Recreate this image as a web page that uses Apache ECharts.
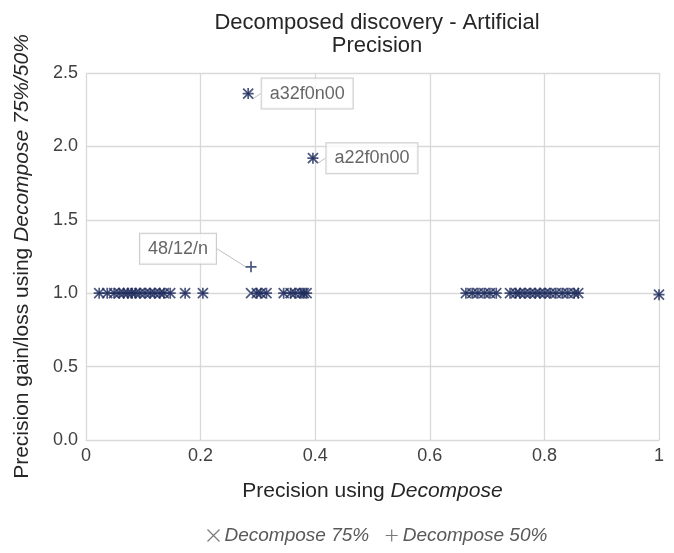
<!DOCTYPE html>
<html>
<head>
<meta charset="utf-8">
<script src="https://cdn.jsdelivr.net/npm/echarts@6/dist/echarts.min.js"></script>
<style>html,body{margin:0;padding:0;background:#fff}#c{width:674px;height:553px}</style>
</head>
<body>
<div id="c"></div>
<script>
// Precision using Decompose (x) — shared by both series
const precision = [0.023, 0.037, 0.049, 0.058, 0.066, 0.073, 0.080, 0.086, 0.094, 0.103, 0.112, 0.120, 0.129, 0.136, 0.147, 0.173, 0.204,
  0.288, 0.298, 0.305, 0.315, 0.345, 0.357, 0.365, 0.375, 0.380, 0.385,
  0.283, 0.396,
  0.663, 0.674, 0.684, 0.695, 0.705, 0.716, 0.740, 0.750, 0.757, 0.766, 0.775, 0.784, 0.792, 0.801, 0.810, 0.820, 0.831, 0.841, 0.852, 0.859,
  1.0];
// Precision gain/loss, Decompose 75%
const gain75 = [1,1,1,1,1,1,1,1,1,1,1,1,1,1,1,1,1,
  1,1,1,1,1,1,1,1,1,1,
  2.36, 1.92,
  1,1,1,1,1,1,1,1,1,1,1,1,1,1,1,1,1,1,1,1,
  0.99];
// Precision gain/loss, Decompose 50%
const gain50 = [1,1,1,1,1,1,1,1,1,1,1,1,1,1,1,1,1,
  1.18,1,1,1,1,1,1,1,1,1,
  2.36, 1.92,
  1,1,1,1,1,1,1,1,1,1,1,1,1,1,1,1,1,1,1,1,
  0.99];
// Point names shown as callouts
const names75 = {27: 'a32f0n00', 28: 'a22f0n00'};
const names50 = {17: '48/12/n'};
const xTicks = [0, 0.2, 0.4, 0.6, 0.8, 1];
const yTicks = [0, 0.5, 1, 1.5, 2, 2.5];

const navy = '#1f2d5e';
const font = 'Liberation Sans, Arial';
const crossPath = 'path://M0,0L10,10M10,0L0,10';
const plusPath = 'path://M5,0L5,10M0,5L10,5';

const labelBox = {
  show: true, color: '#404040', fontSize: 18, fontFamily: font,
  backgroundColor: '#fff', borderColor: '#bfbfbf', borderWidth: 1, padding: [6, 8]
};

function buildData(ys, names, side) {
  return precision.map((x, i) => {
    const item = {value: [x, ys[i]]};
    if (names[i]) {
      item.name = names[i];
      item.label = Object.assign({}, labelBox, {formatter: names[i], position: side});
      item.labelLine = {show: true, lineStyle: {color: '#bfbfbf', width: 1}};
    }
    return item;
  });
}

const chart = echarts.init(document.getElementById('c'));
chart.setOption({
  animation: false,
  textStyle: {fontFamily: font},
  title: {
    text: 'Decomposed discovery - Artificial\nPrecision',
    left: 372, top: 6, textAlign: 'center',
    textStyle: {fontSize: 22, fontWeight: 'normal', color: '#262626', lineHeight: 23, fontFamily: font}
  },
  grid: {left: 86, right: 15, top: 73, bottom: 113},
  legend: {
    bottom: 3, left: 200, itemGap: 14, itemWidth: 12, itemHeight: 12,
    textStyle: {fontSize: 19, fontStyle: 'italic', color: '#595959', fontFamily: font},
    data: [
      {name: 'Decompose 75%', icon: crossPath, itemStyle: {color: 'none', borderColor: '#595959', borderWidth: 1.2}},
      {name: 'Decompose 50%', icon: plusPath, itemStyle: {color: 'none', borderColor: '#595959', borderWidth: 1.2}}
    ]
  },
  xAxis: {
    type: 'value', min: 0, max: 1, interval: 0.2,
    axisLine: {show: true, lineStyle: {color: '#d9d9d9'}},
    axisTick: {show: false},
    splitLine: {show: true, lineStyle: {color: '#d9d9d9', width: 1.3}},
    axisLabel: {fontSize: 18, color: '#404040', margin: 7, formatter: v => xTicks.includes(+v.toFixed(1)) ? String(+v.toFixed(1)) : ''},
    name: '{n|Precision using }{i|Decompose}',
    nameLocation: 'middle', nameGap: 41,
    nameTextStyle: {rich: {n: {fontSize: 21, color: '#262626'}, i: {fontSize: 21, color: '#262626', fontStyle: 'italic'}}}
  },
  yAxis: {
    type: 'value', min: 0, max: 2.5, interval: 0.5,
    axisLine: {show: false},
    axisTick: {show: false},
    splitLine: {show: true, lineStyle: {color: '#d9d9d9', width: 1.3}},
    axisLabel: {fontSize: 18, color: '#404040', margin: 8, formatter: v => yTicks.includes(+v) ? (+v).toFixed(1) : ''},
    name: '{n|Precision gain/loss using }{i|Decompose 75%/50%}',
    nameLocation: 'middle', nameGap: 53,
    nameTextStyle: {rich: {n: {fontSize: 21, color: '#262626'}, i: {fontSize: 21, color: '#262626', fontStyle: 'italic'}}}
  },
  series: [
    {
      name: 'Decompose 75%', type: 'scatter', symbol: crossPath, symbolSize: 10,
      itemStyle: {color: 'none', borderColor: navy, borderWidth: 1.7},
      data: buildData(gain75, names75, 'right'),
      labelLayout: p => (p.dataIndex === 27 || p.dataIndex === 28) ? {dx: 1, dy: 0} : {},
      z: 3
    },
    {
      name: 'Decompose 50%', type: 'scatter', symbol: plusPath, symbolSize: 11,
      itemStyle: {color: 'none', borderColor: navy, borderWidth: 1.7},
      data: buildData(gain50, names50, 'left'),
      labelLayout: p => p.dataIndex === 17 ? {dx: -22, dy: -18} : {},
      z: 4
    }
  ]
});
</script>
</body>
</html>
